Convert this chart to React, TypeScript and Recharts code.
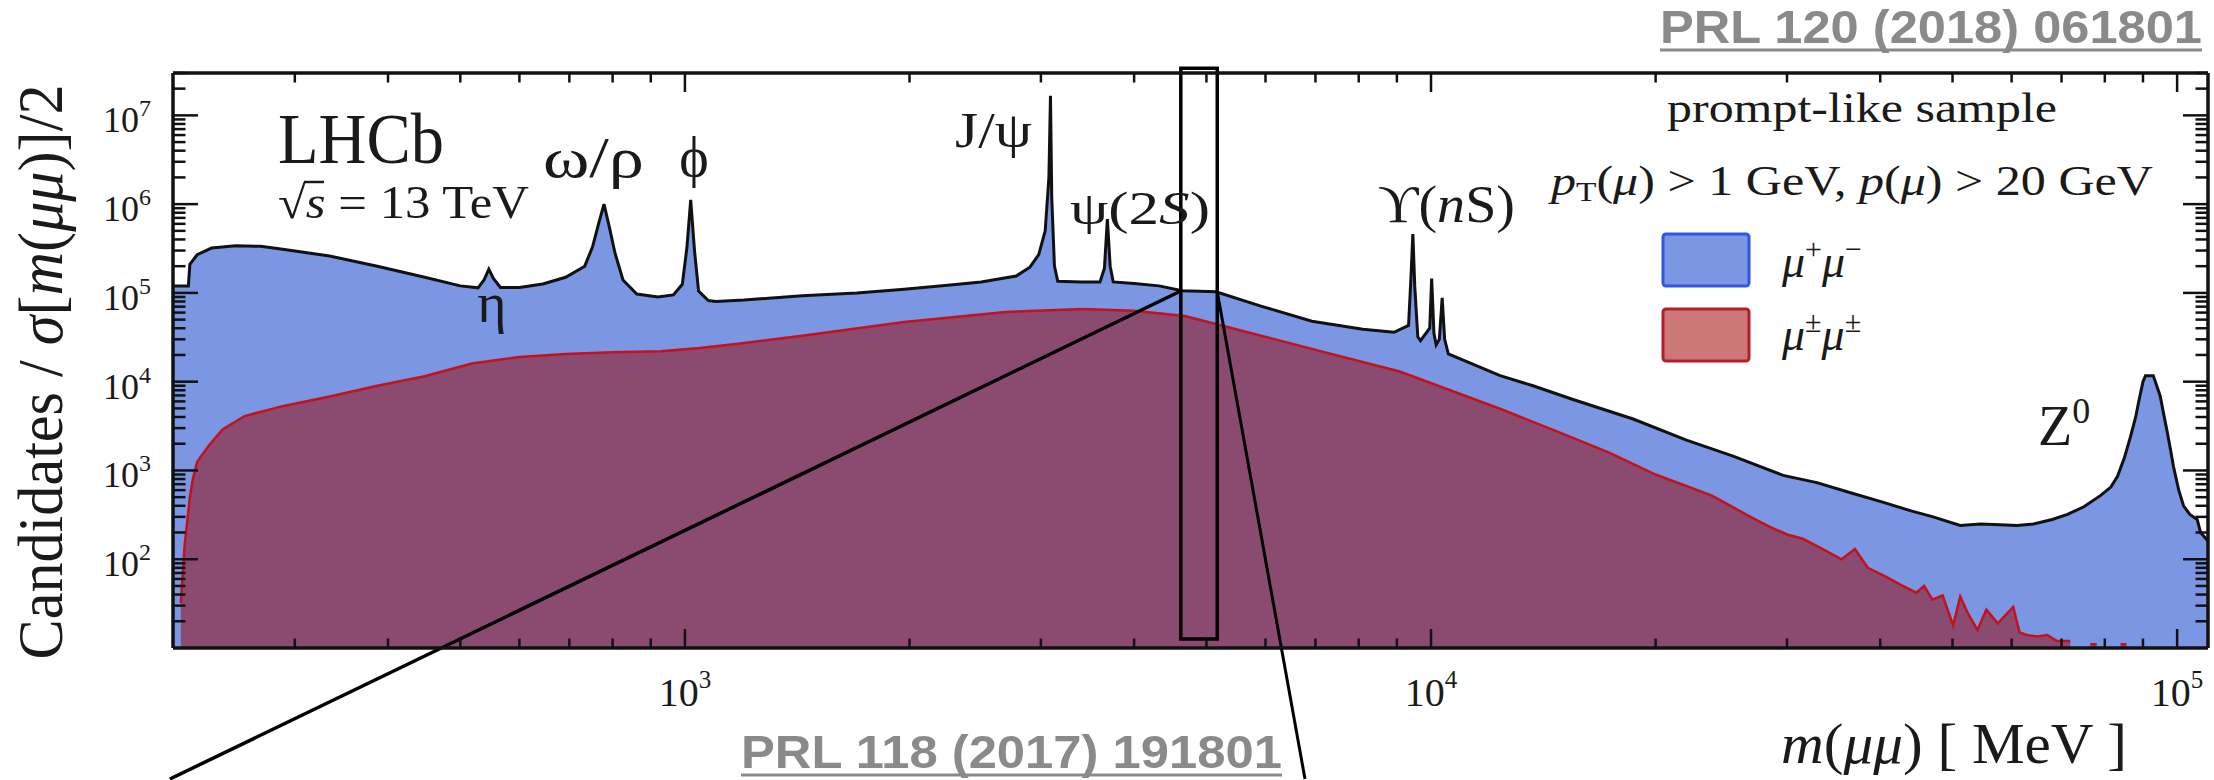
import React from 'react';
import { ComposedChart, Area, XAxis, YAxis, ReferenceLine, ReferenceArea } from 'recharts';

// ---------- data ----------
const massBlue = [206, 216, 217, 222, 232, 250, 270, 289, 334, 387, 448, 500, 528, 538, 546, 554, 566, 600, 645, 692, 734, 752, 766, 779, 792, 806, 826, 862, 920, 965, 992, 1006, 1018, 1030, 1043, 1075, 1100, 1200, 1436, 1700, 1967, 2250, 2495, 2780, 2900, 2980, 3040, 3075, 3090, 3102, 3128, 3160, 3400, 3600, 3650, 3683, 3715, 3750, 4000, 4320, 4640, 5150, 5916, 6924, 8104, 8920, 9330, 9400, 9455, 9510, 9600, 9680, 9960, 10020, 10090, 10160, 10260, 10350, 10430, 10550, 12377, 13700, 15500, 18660, 22000, 25400, 29650, 32900, 36500, 40300, 44000, 47100, 51200, 54500, 57900, 61000, 64200, 68000, 71300, 75000, 78900, 81500, 83200, 85000, 86600, 88000, 88800, 90000, 90700, 92900, 93900, 94900, 96000, 97000, 98000, 98900, 100500, 102000, 104000, 106400, 107500, 110000];
const countsBlue = [1.2e5, 1.2e5, 2.1e5, 2.7e5, 3.2e5, 3.4e5, 3.35e5, 3.1e5, 2.6e5, 2.0e5, 1.5e5, 1.2e5, 1.14e5, 1.4e5, 1.85e5, 1.45e5, 1.15e5, 1.15e5, 1.26e5, 1.5e5, 2.0e5, 3.3e5, 6.0e5, 1.0e6, 5.5e5, 2.8e5, 1.4e5, 9.7e4, 9.0e4, 9.5e4, 1.25e5, 3.2e5, 1.12e6, 3.0e5, 1.05e5, 8.2e4, 8.0e4, 8.3e4, 9.3e4, 1.0e5, 1.1e5, 1.22e5, 1.33e5, 1.55e5, 1.95e5, 2.7e5, 5.0e5, 2.0e6, 1.66e7, 1.2e6, 2.0e5, 1.35e5, 1.33e5, 1.33e5, 1.9e5, 6.8e5, 2.0e5, 1.33e5, 1.28e5, 1.2e5, 1.06e5, 1.03e5, 7.1e4, 4.8e4, 3.9e4, 3.6e4, 4.3e4, 1.5e5, 4.6e5, 1.2e5, 3.2e4, 2.9e4, 4.0e4, 1.45e5, 3.5e4, 2.6e4, 3.0e4, 8.8e4, 3.0e4, 2.05e4, 1.17e4, 9.0e3, 6.3e3, 3.8e3, 2.2e3, 1.45e3, 8.8e2, 7.3e2, 5.6e2, 4.4e2, 3.5e2, 3.0e2, 2.4e2, 2.5e2, 2.45e2, 2.4e2, 2.5e2, 2.8e2, 3.2e2, 3.9e2, 5.2e2, 6.5e2, 8.6e2, 1.4e3, 2.4e3, 4.0e3, 5.9e3, 1.0e4, 1.17e4, 1.17e4, 9.0e3, 6.9e3, 4.2e3, 2.7e3, 1.7e3, 1.1e3, 6.0e2, 4.0e2, 3.2e2, 2.8e2, 2.0e2, 1.6e2];

const massRed = [211, 213.5, 217, 219, 222, 230, 240, 257, 289, 334, 387, 448, 518, 600, 692, 800, 929, 1047, 1186, 1436, 1967, 2690, 3415, 3996, 4680, 5480, 6924, 9078, 12500, 15000, 17300, 20000, 23800, 26800, 28500, 30000, 31500, 33500, 35500, 37000, 38500, 40500, 42500, 44700, 45800, 47000, 48500, 50100, 51200, 52500, 54000, 55500, 57500, 60300, 61500, 62900, 65000, 67000, 69000, 71900, 73000, 76500, 78000, 79000, 84000, 85500, 86500];
const countsRed = [32, 141, 500, 800, 1250, 1900, 2900, 4100, 5300, 6800, 9000, 1.15e4, 1.6e4, 1.9e4, 2.05e4, 2.15e4, 2.2e4, 2.4e4, 2.7e4, 3.3e4, 4.7e4, 6.1e4, 6.6e4, 6.3e4, 5.5e4, 3.9e4, 2.34e4, 1.3e4, 4.8e3, 2.6e3, 1.6e3, 9.0e2, 5.2e2, 3.0e2, 2.3e2, 1.9e2, 1.7e2, 1.3e2, 1.0e2, 1.3e2, 80, 65, 52, 42, 50, 35, 39, 18, 38, 24, 16, 27, 19, 29, 15, 14, 13.5, 14, 12, 12, null, 11, 11, null, 11, 11, null];

const xMajorTicks = [1e3, 1e4, 1e5];
const xMinorTicks = [300, 400, 500, 600, 700, 800, 900, 2000, 3000, 4000, 5000, 6000, 7000, 8000, 9000, 20000, 30000, 40000, 50000, 60000, 70000, 80000, 90000];
const yMajorTicks = [1e2, 1e3, 1e4, 1e5, 1e6, 1e7];
const yMinorTicks = [20, 30, 40, 50, 60, 70, 80, 90, 200, 300, 400, 500, 600, 700, 800, 900, 2000, 3000, 4000, 5000, 6000, 7000, 8000, 9000, 2e4, 3e4, 4e4, 5e4, 6e4, 7e4, 8e4, 9e4, 2e5, 3e5, 4e5, 5e5, 6e5, 7e5, 8e5, 9e5, 2e6, 3e6, 4e6, 5e6, 6e6, 7e6, 8e6, 9e6, 2e7, 3e7];

// zoom-box annotation (mass range and heights, data units)
const boxMass = [4620, 5170];
const boxCounts = [12.6, 3.4e7];
const leftLine = [{ x: 4620, y: 1.05e5 }, { x: 204, y: 0.334 }];
const rightLine = [{ x: 5170, y: 1.03e5 }, { x: 6778, y: 0.334 }];

const xDomain: [number, number] = [206, 110000];
const yDomain: [number, number] = [10, 3.0e7];

const blueData = massBlue.map((m, i) => ({ m, v: countsBlue[i] }));
const redData = massRed.map((m, i) => ({ m, v: countsRed[i] }));

const SERIF = "'Liberation Serif', 'DejaVu Serif', 'Times New Roman', serif";
const SANS = "'Liberation Sans', Arial, sans-serif";
const INK = '#1a1a1a';

const W = 2214;
const H = 780;
const MARGIN = { top: 73, right: 6, bottom: 0, left: 0 };

const XTick = (props: any) => {
  const { x, y, payload } = props;
  const e = Math.round(Math.log10(payload.value));
  return (
    <text x={x} y={y + 58} textAnchor="middle" fontFamily={SERIF} fontSize={40} fill={INK}>
      10<tspan dy={-18} fontSize={25}>{e}</tspan>
    </text>
  );
};

const YTick = (props: any) => {
  const { x, y, payload } = props;
  const e = Math.round(Math.log10(payload.value));
  return (
    <text x={x - 22} y={y + 17} textAnchor="end" fontFamily={SERIF} fontSize={36} fill={INK}>
      10<tspan dy={-16} fontSize={24}>{e}</tspan>
    </text>
  );
};

// tick marks only: the label renderer draws nothing
const NoLabel = () => <g />;

const tickStroke = { stroke: '#111', strokeWidth: 2.5 };
const frame = { stroke: '#111', strokeWidth: 3.5 };
const THIN = 0.5;

export default function App() {
  return (
    <div style={{ position: 'absolute', left: 0, top: 0, width: W, height: H, background: '#fff' }}>
      {/* layer 1: filled histograms and tick labels */}
      <div style={{ position: 'absolute', left: 0, top: 0 }}>
        <ComposedChart width={W} height={H} margin={MARGIN}>
          <XAxis xAxisId="main" dataKey="m" type="number" scale="log" domain={xDomain} allowDataOverflow
            ticks={xMajorTicks} interval={0} height={132} tickSize={0} tickMargin={0} tickLine={false}
            axisLine={false} tick={XTick} />
          <YAxis yAxisId="main" type="number" scale="log" domain={yDomain} allowDataOverflow
            ticks={yMajorTicks} interval={0} width={173} tickSize={0} tickMargin={0} tickLine={false}
            axisLine={false} tick={YTick} />
          <Area xAxisId="main" yAxisId="main" data={blueData} dataKey="v" type="linear"
            fill="#7b97e3" fillOpacity={1} stroke="#111" strokeWidth={3} isAnimationActive={false} dot={false} activeDot={false} />
          <Area xAxisId="main" yAxisId="main" data={redData} dataKey="v" type="linear"
            fill="#8b4a70" fillOpacity={1} stroke="#c3121c" strokeWidth={2.5} isAnimationActive={false} dot={false} activeDot={false} />
        </ComposedChart>
      </div>

      {/* layer 2: frame, inward ticks, zoom box */}
      <div style={{ position: 'absolute', left: 0, top: 0 }}>
        <ComposedChart width={W} height={H} margin={MARGIN} data={blueData}>
          <XAxis xAxisId="main" dataKey="m" type="number" scale="log" domain={xDomain} allowDataOverflow
            ticks={xMajorTicks} interval={0} height={132} tick={false} tickLine={false} axisLine={frame} />
          <YAxis yAxisId="main" type="number" scale="log" domain={yDomain} allowDataOverflow
            ticks={yMajorTicks} interval={0} width={173} tick={false} tickLine={false} axisLine={frame} />

          <XAxis xAxisId="bMaj" dataKey="m" orientation="bottom" mirror height={THIN} type="number" scale="log" domain={xDomain} allowDataOverflow
            ticks={xMajorTicks} interval={0} tick={NoLabel} tickSize={19} axisLine={false} tickLine={tickStroke} />
          <XAxis xAxisId="bMin" dataKey="m" orientation="bottom" mirror height={THIN} type="number" scale="log" domain={xDomain} allowDataOverflow
            ticks={xMinorTicks} interval={0} tick={NoLabel} tickSize={9} axisLine={false} tickLine={tickStroke} />
          <XAxis xAxisId="tMaj" dataKey="m" orientation="top" mirror height={THIN} type="number" scale="log" domain={xDomain} allowDataOverflow
            ticks={xMajorTicks} interval={0} tick={NoLabel} tickSize={19} axisLine={frame} tickLine={tickStroke} />
          <XAxis xAxisId="tMin" dataKey="m" orientation="top" mirror height={THIN} type="number" scale="log" domain={xDomain} allowDataOverflow
            ticks={xMinorTicks} interval={0} tick={NoLabel} tickSize={9} axisLine={false} tickLine={tickStroke} />

          <YAxis yAxisId="lMaj" orientation="left" mirror width={THIN} type="number" scale="log" domain={yDomain} allowDataOverflow
            ticks={yMajorTicks} interval={0} tick={NoLabel} tickSize={25} axisLine={false} tickLine={tickStroke} />
          <YAxis yAxisId="lMin" orientation="left" mirror width={THIN} type="number" scale="log" domain={yDomain} allowDataOverflow
            ticks={yMinorTicks} interval={0} tick={NoLabel} tickSize={12} axisLine={false} tickLine={tickStroke} />
          <YAxis yAxisId="rMaj" orientation="right" mirror width={THIN} type="number" scale="log" domain={yDomain} allowDataOverflow
            ticks={yMajorTicks} interval={0} tick={NoLabel} tickSize={25} axisLine={frame} tickLine={tickStroke} />
          <YAxis yAxisId="rMin" orientation="right" mirror width={THIN} type="number" scale="log" domain={yDomain} allowDataOverflow
            ticks={yMinorTicks} interval={0} tick={NoLabel} tickSize={12} axisLine={false} tickLine={tickStroke} />

          {/* invisible copies that give every axis of this layer its data */}
          <Area xAxisId="main" yAxisId="main" dataKey="v" type="linear" fill="none" stroke="none" isAnimationActive={false} dot={false} activeDot={false} />
          <Area xAxisId="bMaj" yAxisId="lMaj" dataKey="v" type="linear" fill="none" stroke="none" isAnimationActive={false} dot={false} activeDot={false} />
          <Area xAxisId="bMin" yAxisId="lMin" dataKey="v" type="linear" fill="none" stroke="none" isAnimationActive={false} dot={false} activeDot={false} />
          <Area xAxisId="tMaj" yAxisId="rMaj" dataKey="v" type="linear" fill="none" stroke="none" isAnimationActive={false} dot={false} activeDot={false} />
          <Area xAxisId="tMin" yAxisId="rMin" dataKey="v" type="linear" fill="none" stroke="none" isAnimationActive={false} dot={false} activeDot={false} />

          <ReferenceArea xAxisId="main" yAxisId="main" x1={boxMass[0]} x2={boxMass[1]} y1={boxCounts[0]} y2={boxCounts[1]}
            fill="none" fillOpacity={0} stroke="#000" strokeWidth={3.5} ifOverflow="visible" />
          <ReferenceLine xAxisId="main" yAxisId="main" segment={leftLine} stroke="#000" strokeWidth={3.5} ifOverflow="visible" />
          <ReferenceLine xAxisId="main" yAxisId="main" segment={rightLine} stroke="#000" strokeWidth={3} ifOverflow="visible" />
        </ComposedChart>
      </div>

      {/* layer 3: annotations */}
      <svg width={W} height={H} style={{ position: 'absolute', left: 0, top: 0, pointerEvents: 'none' }}>
        <g fontFamily={SERIF} fill={INK}>
          <text transform="translate(62, 372) rotate(-90)" textAnchor="middle" fontSize={64} textLength={575} lengthAdjust="spacingAndGlyphs">
            Candidates / <tspan fontStyle="italic">σ</tspan>[<tspan fontStyle="italic">m</tspan>(<tspan fontStyle="italic">μμ</tspan>)]/2
          </text>
          <text x={1781} y={763} fontSize={56} textLength={346} lengthAdjust="spacingAndGlyphs">
            <tspan fontStyle="italic">m</tspan>(<tspan fontStyle="italic">μμ</tspan>)  [ MeV ]
          </text>

          <text x={278} y={163} fontSize={72} textLength={166} lengthAdjust="spacingAndGlyphs">LHCb</text>
          <text x={278} y={218} fontSize={46} textLength={251} lengthAdjust="spacingAndGlyphs">
            √<tspan fontStyle="italic">s</tspan> = 13 TeV
          </text>
          <line x1={304} y1={182} x2={324} y2={182} stroke={INK} strokeWidth={2.5} />

          <text x={543} y={177} fontSize={56} textLength={101} lengthAdjust="spacingAndGlyphs">ω/ρ</text>
          <text x={694} y={176} fontSize={56} textAnchor="middle">ϕ</text>
          <text x={492} y={322} fontSize={56} textAnchor="middle">η</text>
          <text x={955} y={147} fontSize={50} textLength={77} lengthAdjust="spacingAndGlyphs">J/ψ</text>
          <text x={1070} y={224} fontSize={46} textLength={140} lengthAdjust="spacingAndGlyphs">
            ψ(2<tspan fontStyle="italic">S</tspan>)
          </text>
          <text x={1378} y={222} fontSize={52} textLength={137} lengthAdjust="spacingAndGlyphs">
            ϒ(<tspan fontStyle="italic">n</tspan>S)
          </text>
          <text x={2038} y={445} fontSize={56}>Z<tspan dy={-22} fontSize={36}>0</tspan></text>

          <text x={1667} y={122} fontSize={42} textLength={390} lengthAdjust="spacingAndGlyphs">prompt-like sample</text>
          <text x={1551} y={195} fontSize={42} textLength={602} lengthAdjust="spacingAndGlyphs">
            <tspan fontStyle="italic">p</tspan><tspan fontSize={28} dy={6}>T</tspan><tspan dy={-6}>(</tspan><tspan fontStyle="italic">μ</tspan>) &gt; 1 GeV, <tspan fontStyle="italic">p</tspan>(<tspan fontStyle="italic">μ</tspan>) &gt; 20 GeV
          </text>

          <rect x={1663} y={234} width={86} height={52} rx={3} fill="#7b97e3" stroke="#2d58df" strokeWidth={3} />
          <rect x={1663} y={309} width={86} height={52} rx={3} fill="#cc7878" stroke="#b31f2a" strokeWidth={3} />
          <text x={1782} y={277} fontSize={46} fontStyle="italic">
            μ<tspan dy={-18} fontSize={30} fontStyle="normal">+</tspan><tspan dy={18}>μ</tspan><tspan dy={-18} fontSize={30} fontStyle="normal">−</tspan>
          </text>
          <text x={1782} y={350} fontSize={46} fontStyle="italic">
            μ<tspan dy={-18} fontSize={30} fontStyle="normal">±</tspan><tspan dy={18}>μ</tspan><tspan dy={-18} fontSize={30} fontStyle="normal">±</tspan>
          </text>
        </g>

        <g fontFamily={SANS} fontWeight="bold" fill="#8a8a8a">
          <text x={1660} y={43} fontSize={46} textLength={542} lengthAdjust="spacingAndGlyphs">PRL 120 (2018) 061801</text>
          <line x1={1660} y1={50} x2={2202} y2={50} stroke="#8a8a8a" strokeWidth={3} />
          <text x={741} y={768} fontSize={46} textLength={541} lengthAdjust="spacingAndGlyphs">PRL 118 (2017) 191801</text>
          <line x1={741} y1={775} x2={1282} y2={775} stroke="#8a8a8a" strokeWidth={3} />
        </g>
      </svg>
    </div>
  );
}
